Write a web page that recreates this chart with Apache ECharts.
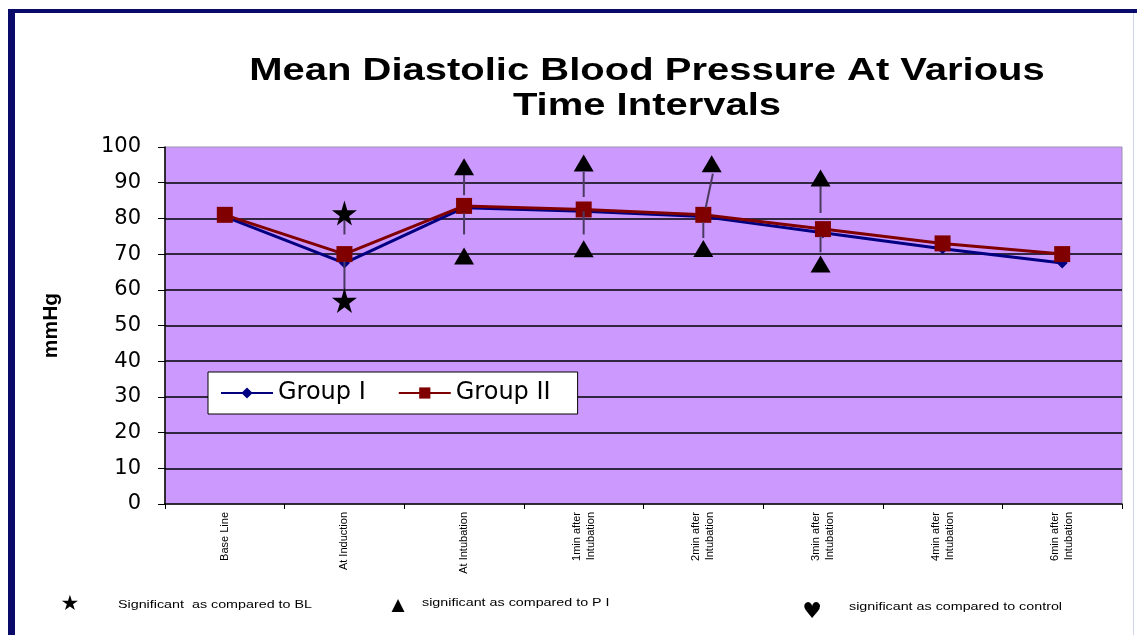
<!DOCTYPE html>
<html>
<head>
<meta charset="utf-8">
<script src="https://cdn.jsdelivr.net/npm/echarts@6/dist/echarts.min.js"></script>
<style>html,body{margin:0;padding:0;background:#fff;}#chart{width:1137px;height:635px;}</style>
</head>
<body>
<div id="chart"></div>
<script>
const titleLines = ['Mean Diastolic Blood Pressure At Various', 'Time Intervals'];
const categories = ['Base Line', 'At Induction', 'At Intubation', '1min after\nIntubation', '2min after\nIntubation', '3min after\nIntubation', '4min after\nIntubation', '6min after\nIntubation'];
const yTicks = [0, 10, 20, 30, 40, 50, 60, 70, 80, 90, 100];
const groupI = [80.5, 67.5, 83, 82, 80.5, 76, 71.5, 67.5];
const groupII = [81, 70, 83.5, 82.5, 81, 77, 73, 70];
// annotation marks: [position along categories (index + 0.5 = centre), value]
const starMarks = [[1.5, 81.5], [1.5, 57]];
const triangleMarks = [[2.5, 94.5], [2.5, 69.5], [3.5, 95.5], [3.5, 71.5], [4.57, 95.3], [4.5, 71.6], [5.48, 91.3], [5.48, 67.2]];
// connector segments: [x1, y1, x2, y2]
const connectors = [
  [1.5, 80, 1.5, 75.5], [1.5, 68, 1.5, 58.8],
  [2.5, 92.5, 2.5, 86.5], [2.5, 81.5, 2.5, 75.5],
  [3.5, 93, 3.5, 86], [3.5, 82, 3.5, 75.5],
  [4.58, 92.5, 4.52, 83], [4.5, 79, 4.5, 74.5],
  [5.48, 89, 5.48, 81.5], [5.48, 75, 5.48, 70.5]
];
const footnotes = ['Significant  as compared to BL', 'significant as compared to P I', 'significant as compared to control'];
const footSymbols = ['\u2605', '\u25B2', '\u2665'];

const STAR = 'path://M50,0 L61,35 L98,35 L68,57 L79,91 L50,70 L21,91 L32,57 L2,35 L39,35 Z';

const chart = echarts.init(document.getElementById('chart'));
const option = {
  backgroundColor: '#fff',
  animation: false,
  graphic: [
    { type: 'rect', shape: { x: 8, y: 9, width: 7, height: 640 }, style: { fill: '#0a0a6a' }, z: 100 },
    { type: 'rect', shape: { x: 8, y: 9, width: 1140, height: 4 }, style: { fill: '#0a0a6a' }, z: 100 },
    { type: 'rect', shape: { x: 1133, y: 13, width: 1, height: 640 }, style: { fill: '#d0d4e8' }, z: 100 },
    { type: 'text', x: 647, y: 71, scaleX: 1.29, style: { text: titleLines[0], font: 'bold 31px "Liberation Sans", Arial', fill: '#000', align: 'center', verticalAlign: 'middle' } },
    { type: 'text', x: 647, y: 106, scaleX: 1.29, style: { text: titleLines[1], font: 'bold 31px "Liberation Sans", Arial', fill: '#000', align: 'center', verticalAlign: 'middle' } },
    { type: 'text', x: 70, y: 605, style: { text: footSymbols[0], font: '21px "DejaVu Sans"', fill: '#000', align: 'center', verticalAlign: 'middle' } },
    { type: 'text', x: 118, y: 605, scaleX: 1.3, style: { text: footnotes[0], font: '11px "Liberation Sans", Arial', fill: '#000', align: 'left', verticalAlign: 'middle' } },
    { type: 'text', x: 398, y: 606, style: { text: footSymbols[1], font: '17px "DejaVu Sans"', fill: '#000', align: 'center', verticalAlign: 'middle' } },
    { type: 'text', x: 422, y: 603, scaleX: 1.3, style: { text: footnotes[1], font: '11px "Liberation Sans", Arial', fill: '#000', align: 'left', verticalAlign: 'middle' } },
    { type: 'text', x: 812, y: 612, style: { text: footSymbols[2], font: '22px "DejaVu Sans"', fill: '#000', align: 'center', verticalAlign: 'middle' } },
    { type: 'text', x: 849, y: 607, scaleX: 1.3, style: { text: footnotes[2], font: '11px "Liberation Sans", Arial', fill: '#000', align: 'left', verticalAlign: 'middle' } }
  ],
  legend: {
    left: 208, top: 372,
    orient: 'horizontal',
    backgroundColor: '#fff',
    borderColor: '#000', borderWidth: 1, borderRadius: 0,
    padding: [9, 27, 9, 12],
    itemGap: 32, itemWidth: 52, itemHeight: 14,
    textStyle: { fontSize: 24, fontFamily: '"DejaVu Sans", sans-serif', color: '#000' },
    data: ['Group I', 'Group II']
  },
  grid: { left: 165, right: 15, top: 147, bottom: 131, show: true, backgroundColor: '#CC99FF', borderColor: '#9a90b0', borderWidth: 1 },
  xAxis: [
    {
      type: 'category', data: categories, boundaryGap: true,
      axisLine: { lineStyle: { color: '#000', width: 1.5 } },
      axisTick: { show: true, length: 5, lineStyle: { color: '#000' } },
      axisLabel: { rotate: 90, fontSize: 11, lineHeight: 14, color: '#000', margin: 8, fontFamily: '"Liberation Sans", Arial', interval: 0 },
      splitLine: { show: false }
    },
    { type: 'value', min: 0, max: 8, show: false }
  ],
  yAxis: {
    type: 'value', min: 0, max: 100, interval: 10,
    name: 'mmHg', nameLocation: 'middle', nameGap: 103, nameRotate: 90,
    nameTextStyle: { fontSize: 21, fontWeight: 'bold', fontFamily: '"Liberation Sans", Arial', color: '#000' },
    axisLine: { show: true, lineStyle: { color: '#000', width: 1.5 } },
    axisTick: { show: true, length: 7, lineStyle: { color: '#000' } },
    axisLabel: { fontSize: 21, color: '#000', margin: 24, fontFamily: '"DejaVu Sans", sans-serif', formatter: v => yTicks.includes(v) ? String(v) : '' },
    splitLine: { show: true, showMaxLine: false, showMinLine: false, lineStyle: { color: '#000', width: 1.5 } }
  },
  series: [
    {
      name: 'Group I', type: 'line', data: groupI, xAxisIndex: 0,
      symbol: 'diamond', symbolSize: 11,
      lineStyle: { color: '#000080', width: 3 }, itemStyle: { color: '#000080' }, z: 3
    },
    {
      name: 'Group II', type: 'line', data: groupII, xAxisIndex: 0,
      symbol: 'rect', symbolSize: 16,
      lineStyle: { color: '#800000', width: 3 }, itemStyle: { color: '#800000' }, z: 4
    },
    {
      name: 'connectors', type: 'custom', xAxisIndex: 1, data: connectors, z: 5,
      renderItem: (params, api) => {
        const p1 = api.coord([api.value(0), api.value(1)]);
        const p2 = api.coord([api.value(2), api.value(3)]);
        return { type: 'line', shape: { x1: p1[0], y1: p1[1], x2: p2[0], y2: p2[1] }, style: { stroke: '#4a3a60', lineWidth: 2 } };
      }
    },
    {
      name: 'stars', type: 'scatter', xAxisIndex: 1, data: starMarks, symbol: STAR, symbolSize: 25,
      itemStyle: { color: '#000', opacity: 1 }, z: 6
    },
    {
      name: 'triangles', type: 'scatter', xAxisIndex: 1, data: triangleMarks, symbol: 'triangle', symbolSize: [20, 17],
      itemStyle: { color: '#000', opacity: 1 }, z: 6
    }
  ]
};
chart.setOption(option);
</script>
</body>
</html>
